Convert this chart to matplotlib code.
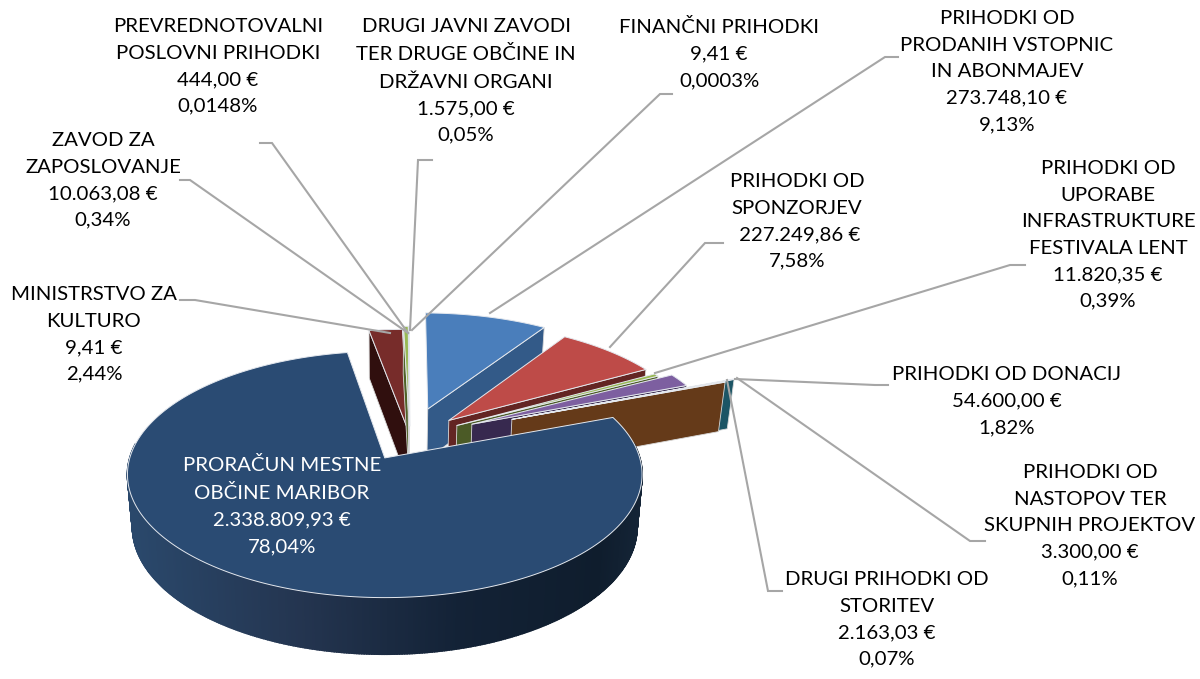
import numpy as np
import matplotlib
matplotlib.use('Agg')
import matplotlib.pyplot as plt
from matplotlib.patches import Polygon

plt.rcParams['font.family'] = ['Lato', 'DejaVu Sans']

# pie order, clockwise
shares = [78.04, 2.44, 0.34, 0.0148, 0.05, 0.0003, 9.13, 7.58, 0.39, 1.82, 0.07, 0.11]
explode = [0.20, 0.066, 0.10, 0.10, 0.10, 0.10, 0.266, 0.221, 0.22, 0.28, 0.50, 0.45]
top_colors = ['#2A4B73', '#772C2A', '#98B954', '#7D5FA0', '#46AAC5', '#F79646',
              '#4A7EBB', '#BE4B48', '#98B954', '#7D5FA0', '#46AAC5', '#F79646']
wall_colors = ['#1B2F47', '#300F0E', '#4F6228', '#3A2B4D', '#1C5565', '#653A19',
               '#335A88', '#632523', '#4B5A26', '#37294F', '#1C5565', '#653A19']

# (text, x, y of first line, colour)
labels = [
    ('PREVREDNOTOVALNI\nPOSLOVNI PRIHODKI\n444,00 €\n0,0148%', 218, 29, 'black'),
    ('DRUGI JAVNI ZAVODI\nTER DRUGE OBČINE IN\nDRŽAVNI ORGANI\n1.575,00 €\n0,05%', 466, 29, 'black'),
    ('FINANČNI PRIHODKI\n9,41 €\n0,0003%', 719, 29, 'black'),
    ('PRIHODKI OD\nPRODANIH VSTOPNIC\nIN ABONMAJEV\n273.748,10 €\n9,13%', 1007, 21, 'black'),
    ('PRIHODKI OD\nSPONZORJEV\n 227.249,86 €\n7,58%', 797, 184, 'black'),
    ('PRIHODKI OD\nUPORABE\nINFRASTRUKTURE\nFESTIVALA LENT\n11.820,35 €\n0,39%', 1108, 171, 'black'),
    ('PRIHODKI OD DONACIJ\n54.600,00 €\n1,82%', 1007, 377, 'black'),
    ('PRIHODKI OD\nNASTOPOV TER\nSKUPNIH PROJEKTOV\n3.300,00 €\n0,11%', 1090, 475, 'black'),
    ('DRUGI PRIHODKI OD\nSTORITEV\n2.163,03 €\n0,07%', 887, 582, 'black'),
    ('MINISTRSTVO ZA\nKULTURO\n9,41 €\n2,44%', 94, 297, 'black'),
    ('ZAVOD ZA\nZAPOSLOVANJE\n10.063,08 €\n0,34%', 103, 143, 'black'),
    ('PRORAČUN MESTNE\nOBČINE MARIBOR\n2.338.809,93 €\n78,04%', 282, 467, 'white'),
]

leaders = [
    [(260, 143), (272, 143), (408, 333)],
    [(432, 160), (418, 160), (410, 330)],
    [(672, 94), (660, 94), (412, 330)],
    [(898, 57), (885, 57), (490, 313)],
    [(723, 243), (705, 243), (610, 347)],
    [(1025, 265), (1010, 265), (655, 373)],
    [(888, 385), (875, 385), (735, 379)],
    [(985, 541), (970, 541), (737, 378)],
    [(782, 591), (768, 591), (727, 380)],
    [(180, 300), (195, 300), (390, 333)],
    [(180, 180), (190, 180), (408, 333)],
]

K = 0.134
CENTER = np.array([0.099, 0.174])


def project(u, v, bottom=False):
    # perspective view of the pie plane, origin at apex of the big slice
    w = 1 + K * v
    if bottom:
        return 385 + 250 * u / w, 510 - 125 * v / w
    return 385 + 255 * u / w, 458 - 121 * v / w


def radial_wall(ax, apex, rim, color):
    a = project(*apex)
    b = project(*rim)
    c = project(*rim, bottom=True)
    d = project(*apex, bottom=True)
    ax.add_patch(Polygon([a, b, c, d], fc=color, ec='#D9D9D9', lw=0.6, joinstyle='round'))


def draw_slice(ax, start, end, off, top, wall, shaded=False):
    mid = np.radians((start + end) / 2)
    apex = CENTER + off * np.array([np.cos(mid), np.sin(mid)])
    th = np.radians(np.linspace(start, end, max(int(abs(end - start)) * 2, 2)))
    us = apex[0] + np.cos(th)
    vs = apex[1] + np.sin(th)

    if shaded:
        # outer wall with the left to right shading
        stops = [133, 300, 460, 600, 640]
        reds = [0x2A, 0x24, 0x13, 0x0F, 0x14]
        greens = [0x48, 0x35, 0x22, 0x1D, 0x24]
        blues = [0x6B, 0x50, 0x36, 0x2D, 0x36]
        for i in range(len(th) - 1):
            if np.sin(th[i]) > 0.12 and np.sin(th[i + 1]) > 0.12:
                continue
            quad = [project(us[i], vs[i]), project(us[i + 1], vs[i + 1]),
                    project(us[i + 1], vs[i + 1], True), project(us[i], vs[i], True)]
            x = quad[0][0]
            col = (np.interp(x, stops, reds) / 255, np.interp(x, stops, greens) / 255,
                   np.interp(x, stops, blues) / 255)
            ax.add_patch(Polygon(quad, fc=col, ec=col, lw=1.2))

    # radial faces that look towards the viewer
    if np.cos(np.radians(start)) < 0:
        radial_wall(ax, apex, (us[0], vs[0]), wall)
    if np.cos(np.radians(end)) > 0 and not shaded:
        radial_wall(ax, apex, (us[-1], vs[-1]), wall)

    px, py = project(np.r_[apex[0], us], np.r_[apex[1], vs])
    ax.add_patch(Polygon(np.c_[px, py], fc=top, ec='#E4E8EE', lw=0.7, joinstyle='round'))


fig = plt.figure(figsize=(12, 6.79), dpi=100)
ax = fig.add_axes([0, 0, 1, 1])
ax.set_xlim(0, 1200)
ax.set_ylim(679, 0)
ax.axis('off')

# angles from the shares, big slice runs clockwise from 20.5 degrees
angle = 20.5
spans = []
for s in shares:
    spans.append((angle, angle - s * 3.6))
    angle -= s * 3.6

# draw back to front, big slice last
for i in range(1, len(shares)):
    start = spans[i][0] + 360
    end = spans[i][1] + 360
    draw_slice(ax, start, end, explode[i], top_colors[i], wall_colors[i])
draw_slice(ax, spans[0][0], spans[0][1], explode[0], top_colors[0], wall_colors[0], shaded=True)

for pts in leaders:
    xs = [p[0] for p in pts]
    ys = [p[1] for p in pts]
    ax.plot(xs, ys, color='#A6A6A6', lw=1.5, solid_joinstyle='miter')

for text, x, y, col in labels:
    ax.text(x, y - 11, text, color=col, fontsize=14.7, ha='center', va='top',
            linespacing=1.68, multialignment='center')

fig.savefig('out.png', dpi=100)
